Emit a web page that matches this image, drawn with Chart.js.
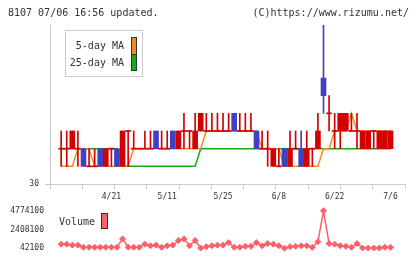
<!DOCTYPE html>
<html>
<head>
<meta charset="utf-8">
<script src="https://cdn.jsdelivr.net/npm/chart.js@4.4.0/dist/chart.umd.min.js"></script>
<style>
  body { margin: 0; background: #fff; }
  #wrap { position: relative; width: 420px; height: 259px; overflow: hidden; font-family: "DejaVu Sans Mono", monospace; color: #333; }
  .txt { position: absolute; font-size: 10px; line-height: 12px; white-space: nowrap; }
  #mainChart { position: absolute; left: 0; top: 0; }
  #volChart { position: absolute; left: 0; top: 200px; }
  #legendBox { position: absolute; left: 65px; top: 30px; width: 78px; height: 47px; box-sizing: border-box; border: 1px solid #ccc; background: #fff; }
  .sw { position: absolute; box-sizing: border-box; border: 1px solid #333; }
</style>
</head>
<body>
<div id="wrap">
  <canvas id="mainChart" width="420" height="203"></canvas>
  <canvas id="volChart" width="420" height="59"></canvas>

  <div class="txt" style="left:8px; top:7px;">8107 07/06 16:56 updated.</div>
  <div class="txt" style="right:11px; top:7px;">(C)https://www.rizumu.net/</div>

  <div id="legendBox"></div>
  <div class="txt" style="left:60px; width:64px; text-align:right; top:40px;">5-day MA</div>
  <div class="txt" style="left:60px; width:64px; text-align:right; top:57px;">25-day MA</div>
  <div class="sw" style="left:131px; top:37px; width:6px; height:18px; background:rgb(240,140,30);"></div>
  <div class="sw" style="left:131px; top:54px; width:6px; height:17px; background:rgb(20,170,20);"></div>

  <div class="txt" style="left:59px; top:216px;">Volume</div>
  <div class="sw" style="left:101px; top:213px; width:7px; height:16px; background:rgb(255,96,104);"></div>
</div>

<script>
/* daily data, one entry per trading day */
let dates = [
    '4/8','4/11','4/12','4/13','4/14','4/15','4/18','4/19','4/20','4/21',
    '4/22','4/25','4/26','4/27','4/28','5/2','5/6','5/9','5/10','5/11',
    '5/12','5/13','5/16','5/17','5/18','5/19','5/20','5/23','5/24','5/25',
    '5/26','5/27','5/30','5/31','6/1','6/2','6/3','6/6','6/7','6/8',
    '6/9','6/10','6/13','6/14','6/15','6/16','6/17','6/20','6/21','6/22',
    '6/23','6/24','6/27','6/28','6/29','6/30','7/1','7/4','7/5','7/6'
];

let open = [
    32,32,32,32,32,31,31,32,31,32, 32,31,33,32,32,32,32,33,32,32,
    33,32,33,33,32,33,33,33,33,33, 33,34,33,33,33,33,32,32,31,31,
    32,31,32,32,31,32,32,36,34,33, 33,33,33,33,32,32,33,32,32,32
];
let high = [
    33,33,33,33,32,32,32,32,32,32, 32,33,33,33,32,33,33,33,33,33,
    33,33,34,33,34,34,34,34,34,34, 34,34,34,34,34,33,33,33,32,32,
    32,33,33,33,33,32,34,39,35,34, 34,34,34,34,33,33,33,33,33,33
];
let low = [
    31,31,32,31,31,31,31,31,31,31, 31,31,31,32,32,32,32,32,32,32,
    32,32,32,32,32,33,33,33,33,33, 33,33,33,33,33,32,32,31,31,31,
    31,31,32,31,31,31,32,34,33,32, 32,33,33,32,32,32,32,32,32,32
];
let close = [
    32,32,33,32,31,31,31,31,32,32, 31,33,33,32,32,32,32,32,32,32,
    32,33,33,33,33,34,33,33,33,33, 33,33,33,33,33,32,32,32,32,31,
    31,32,32,31,32,32,33,35,34,33, 34,34,33,33,33,33,33,33,33,33
];

let ma5 = [
    31,31,31,32,32,32,31,31,31,31, 31,31,31,32,32,32,32,32,32,32,
    32,32,32,32,32,32,33,33,33,33, 33,33,33,33,33,33,32,32,32,32,
    31,31,31,31,31,31,31,32,32,33, 33,33,34,33,33,33,33,33,33,33
];
let ma25 = [
    32,32,32,32,32,32,32,32,32,32, 32,31,31,31,31,31,31,31,31,31,
    31,31,31,31,31,32,32,32,32,32, 32,32,32,32,32,32,32,32,32,32,
    32,32,32,32,32,32,32,32,32,32, 32,32,32,32,32,32,32,32,32,32
];

let volume = [
    550000,550000,430000,430000,160000,160000,160000,160000,160000,160000,
    160000,1220000,160000,160000,160000,550000,350000,430000,160000,350000,
    430000,1020000,1220000,350000,1020000,60000,230000,350000,430000,430000,
    750000,160000,160000,280000,280000,750000,350000,630000,550000,350000,
    42100,230000,280000,350000,350000,160000,870000,4774100,630000,550000,
    350000,280000,160000,630000,60000,60000,60000,60000,160000,160000
];

/* which days get a date label */
let tickIdx = [9, 19, 29, 39, 49, 59];

/* colours */
let upColor = 'rgb(212,0,0)';
let downColor = 'rgb(64,64,192)';
let orange = 'rgb(240,140,30)';
let green = 'rgb(20,170,20)';
let volColor = 'rgb(255,96,104)';
let axisColor = '#ccc';
let tickFont = {family: 'DejaVu Sans Mono', size: 8};

/* x range is a bit wider than the data, like the original */
let xMin = -2;
let xMax = dates.length + 1.6;

let idx = dates.map((d, i) => i);
let candleColors = idx.map(i => close[i] < open[i] ? downColor : upColor);

let wickData = idx.map(i => ({x: i, y: [low[i], high[i]]}));
let bodyData = idx.map(i => {
    let lo = Math.min(open[i], close[i]);
    let hi = Math.max(open[i], close[i]);
    // open == close: keep a thin line so the day still shows
    if (lo === hi) { return {x: i, y: [lo - 0.03, hi + 0.03]}; }
    return {x: i, y: [lo, hi]};
});

/* Main price chart: candles + moving averages */
let mainChart = new Chart(document.getElementById('mainChart').getContext('2d'), {
    type: 'bar',
    data: {
        datasets: [
            {
                type: 'line', label: '5-day MA',
                data: idx.map(i => ({x: i, y: ma5[i]})),
                borderColor: orange, borderWidth: 1.5, pointRadius: 0, order: 3
            },
            {
                type: 'line', label: '25-day MA',
                data: idx.map(i => ({x: i, y: ma25[i]})),
                borderColor: green, borderWidth: 1.5, pointRadius: 0, order: 4
            },
            {
                label: 'wick', data: wickData,
                backgroundColor: candleColors, barThickness: 1, grouped: false, order: 2
            },
            {
                label: 'body', data: bodyData,
                backgroundColor: candleColors, barThickness: 5, grouped: false, order: 1
            }
        ]
    },
    options: {
        responsive: false,
        animation: false,
        layout: {padding: {top: 25, right: 15, left: 0, bottom: 0}},
        plugins: {legend: {display: false}, tooltip: {enabled: false}},
        scales: {
            x: {
                type: 'linear', min: xMin, max: xMax, offset: false,
                grid: {drawOnChartArea: false, offset: false, tickLength: 5, color: axisColor},
                border: {color: axisColor},
                ticks: {display: false},
                afterBuildTicks: s => {
                    let t = [];
                    for (let k = 0; k <= 11; k++) { t.push({value: xMin + (xMax - xMin) * k / 11}); }
                    s.ticks = t;
                },
                afterFit: s => { s.height = 5; }
            },
            x2: {
                type: 'linear', position: 'bottom', min: xMin, max: xMax, offset: false,
                grid: {display: false, offset: false, drawTicks: false},
                border: {display: false},
                ticks: {font: tickFont, color: '#333', padding: 3, autoSkip: false, maxRotation: 0,
                        callback: v => dates[v]},
                afterBuildTicks: s => { s.ticks = tickIdx.map(v => ({value: v})); },
                afterFit: s => { s.height = 14; }
            },
            y: {
                min: Math.min(...low) - 1, max: Math.max(...high),
                grid: {drawOnChartArea: false, tickLength: 5, color: axisColor},
                border: {color: axisColor},
                ticks: {font: tickFont, color: '#333', padding: 6},
                afterBuildTicks: s => { s.ticks = [{value: s.min}]; },
                afterFit: s => { s.width = 50; }
            }
        }
    }
});

/* Volume chart underneath */
let volMin = Math.min(...volume);
let volMax = Math.max(...volume);

let volChart = new Chart(document.getElementById('volChart').getContext('2d'), {
    type: 'line',
    data: {
        datasets: [{
            label: 'Volume',
            data: idx.map(i => ({x: i, y: volume[i]})),
            borderColor: volColor, backgroundColor: volColor,
            borderWidth: 1.5, pointStyle: 'rectRot', pointRadius: 3, pointBorderWidth: 1,
            clip: false
        }]
    },
    options: {
        responsive: false,
        animation: false,
        layout: {padding: {top: 9, right: 15, left: 0, bottom: 10}},
        plugins: {legend: {display: false}, tooltip: {enabled: false}},
        scales: {
            x: {type: 'linear', display: false, min: xMin, max: xMax, offset: false},
            y: {
                min: volMin, max: volMax,
                grid: {display: false, drawTicks: false},
                border: {display: false},
                ticks: {font: tickFont, color: '#333', padding: 6, callback: v => String(v)},
                afterBuildTicks: s => {
                    s.ticks = [volMin, (volMin + volMax) / 2, volMax].map(v => ({value: v}));
                },
                afterFit: s => { s.width = 50; }
            }
        }
    }
});
</script>
</body>
</html>
